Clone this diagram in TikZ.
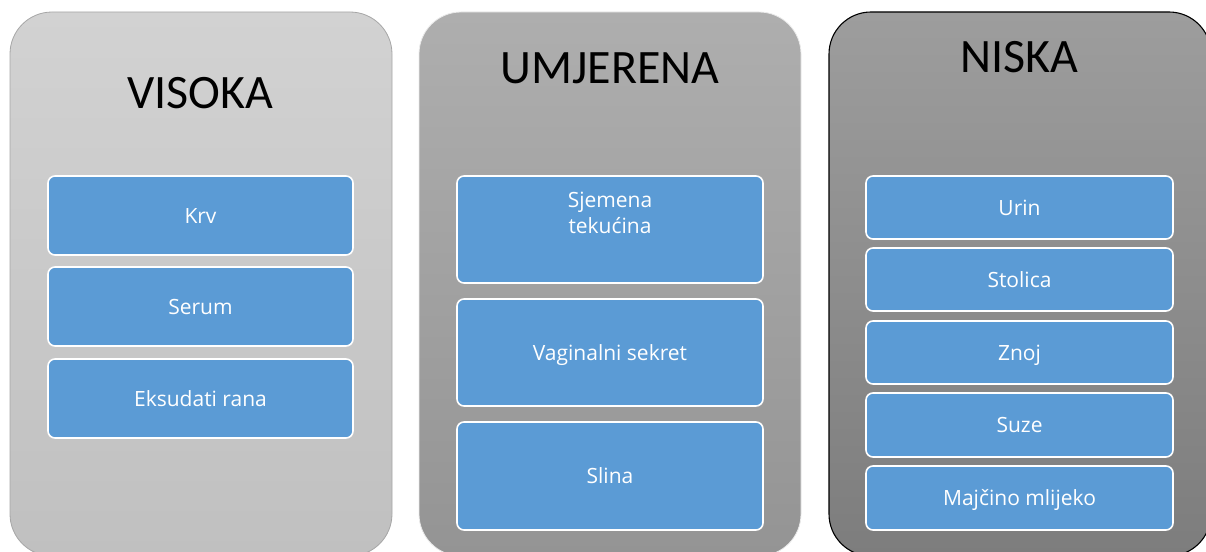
\documentclass[tikz,border=0pt]{standalone}
\usepackage{fontspec}
\setmainfont{Carlito}
\newfontfamily\itemfont{Open Sans}
\definecolor{itemblue}{HTML}{5B9BD5}
\begin{document}
\begin{tikzpicture}[x=1pt,y=-1pt,
  panel/.style={inner sep=0pt, outer sep=0pt, rounded corners=42pt, minimum width=382pt, minimum height=544pt},
  item/.style={draw=white, line width=1.6pt, fill=itemblue, rounded corners=7pt, inner sep=0pt, outer sep=0pt,
    text=white, font=\itemfont\fontsize{21}{26}\selectfont, text height=15pt, text depth=0pt, align=center},
  title/.style={anchor=base, font=\fontsize{48}{52}\selectfont, text=black, inner sep=0pt}]
\useasboundingbox (0,0) rectangle (1206,551);
% panels
\node[panel, draw=black!35, line width=0.8pt, top color={rgb,255:red,210;green,210;blue,210}, bottom color={rgb,255:red,192;green,192;blue,192}] (p1) at (201,284) {};
\node[panel, draw=black!8, line width=0.8pt, top color={rgb,255:red,174;green,174;blue,174}, bottom color={rgb,255:red,148;green,148;blue,148}] (p2) at (610,284) {};
\node[panel, draw=black, line width=1.1pt, top color={rgb,255:red,157;green,157;blue,157}, bottom color={rgb,255:red,125;green,125;blue,125}] (p3) at (1020,284) {};
% titles
\node[title] (t1) at (200.5,108) {VISOKA};
\node[title] (t2) at (610,83) {UMJERENA};
\node[title] (t3) at (1019.5,72) {NISKA};
% column 1
\node[item, minimum width=305pt, minimum height=79pt] (krv) at (200.5,215.5) {Krv};
\node[item, minimum width=305pt, minimum height=79pt] (serum) at (200.5,306.5) {Serum};
\node[item, minimum width=305pt, minimum height=79pt] (eks) at (200.5,398.5) {Eksudati rana};
% column 2
\node[item, minimum width=306pt, minimum height=107pt] (sjem) at (610,229.5) {};
\node[anchor=base, inner sep=0pt, text=white, font=\itemfont\fontsize{21}{26}\selectfont, align=center] (sjemt) at (610,233) {Sjemena\\tekućina};
\node[item, minimum width=306pt, minimum height=107pt] (vag) at (610,352.5) {Vaginalni sekret};
\node[item, minimum width=306pt, minimum height=108pt] (slina) at (610,476) {Slina};
% column 3
\node[item, minimum width=307pt, minimum height=63pt] (urin) at (1019.5,207.5) {Urin};
\node[item, minimum width=307pt, minimum height=63pt] (stol) at (1019.5,279.5) {Stolica};
\node[item, minimum width=307pt, minimum height=63pt] (znoj) at (1019.5,352.5) {Znoj};
\node[item, minimum width=307pt, minimum height=64pt] (suze) at (1019.5,425) {Suze};
\node[item, minimum width=307pt, minimum height=64pt] (maj) at (1019.5,498) {Majčino mlijeko};
\end{tikzpicture}
\end{document}
